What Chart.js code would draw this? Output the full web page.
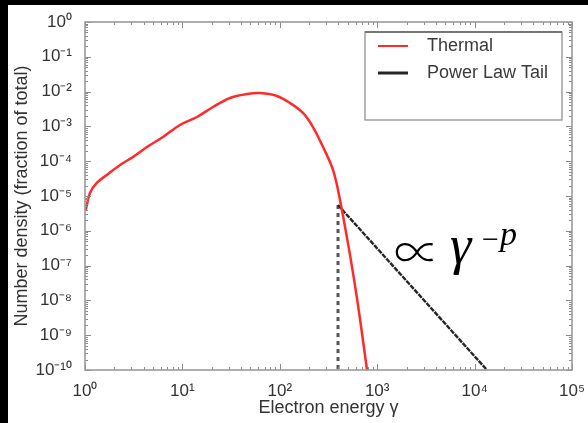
<!DOCTYPE html>
<html><head><meta charset="utf-8">
<script src="https://cdn.jsdelivr.net/npm/chart.js@4.4.1/dist/chart.umd.min.js"></script>
<style>
html,body{margin:0;padding:0;background:#000;width:588px;height:423px;overflow:hidden}
#wrap{position:absolute;left:8px;top:5px;width:580px;height:418px;background:#fff}
canvas{display:block}
</style></head><body><div id="wrap"><canvas id="c" width="580" height="418"></canvas></div>
<script>
// Thermal (Maxwell-Juttner-like) distribution
const thermalGamma   = [1.02, 1.125, 1.32, 1.67, 2.29, 3.11, 4.33, 6.32, 9.45, 14.1, 20.6, 30.8, 46.0, 62.6, 93.6, 127, 173, 219, 278, 352, 415, 526, 635, 786, 830];
const thermalDensity = [4.0e-6, 1.22e-5, 2.37e-5, 4.0e-5, 7.8e-5, 1.32e-4, 2.56e-4, 4.96e-4, 1.10e-3, 1.86e-3, 3.61e-3, 6.55e-3, 8.5e-3, 9.1e-3, 7.5e-3, 4.7e-3, 2.43e-3, 9.6e-4, 2.56e-4, 5.6e-5, 7.7e-6, 2.0e-7, 7.4e-9, 1.0e-10, 3.5e-11];
// Power-law tail
const tailGamma   = [396, 13400];
const tailDensity = [5.5e-6, 1.0e-10];
// Vertical dashed cutoff line
const cutoffGamma   = [396, 396];
const cutoffDensity = [5.5e-6, 1.0e-10];
// Axes
const xTickPowers = [0, 1, 2, 3, 4, 5];
const yTickPowers = [0, -1, -2, -3, -4, -5, -6, -7, -8, -9, -10];
const seriesLabels = ['Thermal', 'Power Law Tail'];
const xTitle = 'Electron energy \u03b3';
const yTitle = 'Number density (fraction of total)';

const SUP = {'0':'\u2070','1':'\u00b9','2':'\u00b2','3':'\u00b3','4':'\u2074','5':'\u2075','6':'\u2076','7':'\u2077','8':'\u2078','9':'\u2079','-':'\u207b'};
const sup = s => String(s).split('').map(c => SUP[c] || c).join('');
const pts = (xs, ys) => xs.map((x, i) => ({x, y: ys[i]}));

function logTicks(powers) {
  const lo = Math.min(...powers), hi = Math.max(...powers);
  const t = [];
  for (let p = lo; p <= hi; p++) {
    for (let m = 1; m <= 9; m++) {
      if (p === hi && m > 1) break;
      t.push({value: m * Math.pow(10, p), major: m === 1});
    }
  }
  return t;
}
function isPow(v) { const l = Math.log10(v); return Math.abs(l - Math.round(l)) < 1e-9; }
const tickFont = {family: '"Liberation Sans", Arial, sans-serif', size: 17};
const titleFont = {family: '"Liberation Sans", Arial, sans-serif', size: 18};

const deco = {
  id: 'deco',
  afterDraw(chart) {
    const {ctx, chartArea: a, scales: {x, y}} = chart;
    ctx.save();
    // ticks inside on all four sides
    ctx.strokeStyle = '#8a8a8a';
    ctx.lineWidth = 1;
    x.ticks.forEach(t => {
      const px = Math.round(x.getPixelForValue(t.value)) + 0.5;
      const L = t.major ? 6 : 3;
      ctx.beginPath();
      ctx.moveTo(px, a.bottom); ctx.lineTo(px, a.bottom - L);
      ctx.moveTo(px, a.top); ctx.lineTo(px, a.top + L);
      ctx.stroke();
    });
    y.ticks.forEach(t => {
      const py = Math.round(y.getPixelForValue(t.value)) + 0.5;
      const L = t.major ? 6 : 3;
      ctx.beginPath();
      ctx.moveTo(a.left, py); ctx.lineTo(a.left + L, py);
      ctx.moveTo(a.right, py); ctx.lineTo(a.right - L, py);
      ctx.stroke();
    });
    // frame
    ctx.strokeStyle = '#9a9a9a';
    ctx.lineWidth = 1.6;
    ctx.strokeRect(a.left, a.top, a.right - a.left, a.bottom - a.top);

    // legend
    const lx = 357, ly = 27, lw = 197, lh = 88;
    ctx.fillStyle = '#fff';
    ctx.fillRect(lx, ly, lw, lh);
    ctx.strokeStyle = '#999';
    ctx.lineWidth = 1.4;
    ctx.strokeRect(lx, ly, lw, lh);
    ctx.strokeStyle = '#777'; ctx.lineWidth = 2;
    ctx.beginPath(); ctx.moveTo(lx, ly); ctx.lineTo(lx + lw, ly); ctx.stroke();
    const ds = chart.data.datasets;
    ctx.font = '18px "Liberation Sans", Arial, sans-serif';
    ctx.textBaseline = 'middle';
    [0, 1].forEach(i => {
      const yy = 41 + i * 27;
      ctx.strokeStyle = ds[i].borderColor;
      ctx.lineWidth = i === 0 ? 2 : 3;
      ctx.setLineDash([]);
      ctx.beginPath(); ctx.moveTo(370, yy); ctx.lineTo(400, yy); ctx.stroke();
      ctx.fillStyle = '#3a3a3a';
      ctx.fillText(ds[i].label, 419, yy);
    });

    // annotation  ∝ γ^{-p}
    ctx.fillStyle = '#000';
    ctx.textBaseline = 'alphabetic';
    ctx.font = '300 46px "Noto Sans CJK JP", "DejaVu Sans", sans-serif';
    ctx.fillText('\u221d', 386, 264);
    ctx.font = 'italic 54px "Liberation Serif", serif';
    ctx.fillText('\u03b3', 442, 258);
    ctx.font = '30px "Liberation Serif", serif';
    ctx.fillText('\u2212', 474, 244);
    ctx.font = 'italic 34px "Liberation Serif", serif';
    ctx.fillText('p', 492, 240);
    ctx.restore();
  }
};

new Chart(document.getElementById('c'), {
  type: 'line',
  data: {
    datasets: [
      {label: seriesLabels[0], data: pts(thermalGamma, thermalDensity), borderColor: '#ff2b2b', borderWidth: 2.5, pointRadius: 0, tension: 0.35, fill: false},
      {label: seriesLabels[1], data: pts(tailGamma, tailDensity), borderColor: '#262626', borderWidth: 2.4, borderDash: [5, 1], pointRadius: 0, fill: false},
      {label: 'cutoff', data: pts(cutoffGamma, cutoffDensity), borderColor: '#555', borderWidth: 3, borderDash: [4, 4], pointRadius: 0, fill: false}
    ]
  },
  options: {
    responsive: false,
    animation: false,
    layout: {padding: {top: 17, right: 16, left: 0, bottom: 0}},
    plugins: {legend: {display: false}, tooltip: {enabled: false}},
    scales: {
      x: {
        type: 'logarithmic', min: 1, max: 1e5,
        grid: {display: false}, border: {display: false},
        afterBuildTicks: s => { s.ticks = logTicks(xTickPowers); },
        afterFit: s => { s.height = 53; },
        ticks: {autoSkip: false, maxRotation: 0, padding: 3, color: '#333', font: tickFont,
          callback: v => isPow(v) ? '10' + sup(Math.round(Math.log10(v))) : ''},
        title: {display: true, text: xTitle, color: '#333', font: titleFont, padding: {top: 0, bottom: 4}}
      },
      y: {
        type: 'logarithmic', min: 1e-10, max: 1,
        grid: {display: false}, border: {display: false},
        afterBuildTicks: s => { s.ticks = logTicks(yTickPowers); },
        afterFit: s => { s.width = 77; },
        ticks: {autoSkip: false, padding: 5, color: '#333', font: tickFont,
          callback: v => isPow(v) ? '10' + sup(Math.round(Math.log10(v))) : ''},
        title: {display: true, text: yTitle, color: '#333', font: titleFont, padding: {top: 3, bottom: 0}}
      }
    }
  },
  plugins: [deco]
});
</script>
</body></html>
